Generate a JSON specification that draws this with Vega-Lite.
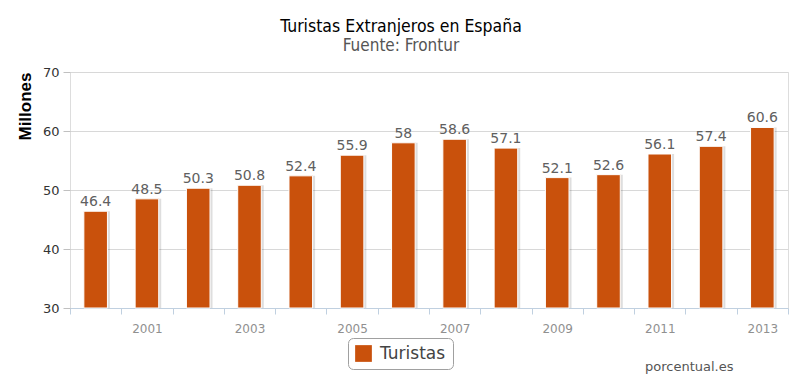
{
  "$schema": "https://vega.github.io/schema/vega-lite/v6.json",
  "autosize": "none",
  "width": 718,
  "height": 236,
  "padding": {"left": 70, "top": 72, "right": 12, "bottom": 82},
  "background": "white",
  "title": {
    "text": "Turistas Extranjeros en España",
    "subtitle": "Fuente: Frontur",
    "font": "DejaVu Sans Condensed",
    "fontSize": 17.5,
    "fontWeight": "normal",
    "color": "#000000",
    "subtitleFont": "DejaVu Sans Condensed",
    "subtitleFontSize": 17,
    "subtitleColor": "#555555",
    "subtitlePadding": 3,
    "anchor": "middle",
    "dx": -28,
    "offset": 12
  },
  "data": {
    "values": [
      {"year": "2000", "serie": "Turistas", "value": 46.4},
      {"year": "2001", "serie": "Turistas", "value": 48.5},
      {"year": "2002", "serie": "Turistas", "value": 50.3},
      {"year": "2003", "serie": "Turistas", "value": 50.8},
      {"year": "2004", "serie": "Turistas", "value": 52.4},
      {"year": "2005", "serie": "Turistas", "value": 55.9},
      {"year": "2006", "serie": "Turistas", "value": 58},
      {"year": "2007", "serie": "Turistas", "value": 58.6},
      {"year": "2008", "serie": "Turistas", "value": 57.1},
      {"year": "2009", "serie": "Turistas", "value": 52.1},
      {"year": "2010", "serie": "Turistas", "value": 52.6},
      {"year": "2011", "serie": "Turistas", "value": 56.1},
      {"year": "2012", "serie": "Turistas", "value": 57.4},
      {"year": "2013", "serie": "Turistas", "value": 60.6}
    ]
  },
  "encoding": {
    "x": {
      "field": "year",
      "type": "ordinal",
      "scale": {"paddingInner": 0, "paddingOuter": 0},
      "axis": {
        "title": "porcentual.es",
        "titleFont": "DejaVu Sans",
        "titleFontSize": 13,
        "titleFontWeight": "normal",
        "titleColor": "#555555",
        "titleX": 663,
        "titleY": 62,
        "titleAlign": "right",
        "titleBaseline": "alphabetic",
        "labelAngle": 0,
        "labelExpr": "toNumber(datum.value) % 2 == 1 ? datum.label : ''",
        "labelFont": "DejaVu Sans",
        "labelFontSize": 12,
        "labelColor": "#909090",
        "labelPadding": 9,
        "tickBand": "extent",
        "tickColor": "#c0d0e0",
        "tickSize": 6,
        "domainColor": "#c0d0e0",
        "grid": false
      }
    },
    "y": {
      "field": "value",
      "type": "quantitative",
      "scale": {"domain": [30, 70], "nice": false, "zero": false},
      "axis": {
        "title": "Millones",
        "titleFont": "Liberation Sans",
        "titleFontSize": 17,
        "titleFontWeight": "bold",
        "titleColor": "#000000",
        "titleAnchor": "end",
        "titlePadding": 8,
        "values": [30, 40, 50, 60, 70],
        "labelFont": "DejaVu Sans",
        "labelFontSize": 13,
        "labelColor": "#333333",
        "labelPadding": 4,
        "tickColor": "#c0c0c0",
        "tickSize": 7,
        "domain": false,
        "gridColor": "#d8d8d8",
        "gridWidth": 1
      }
    }
  },
  "layer": [
    {
      "mark": {"type": "bar", "color": "#000000", "opacity": 0.13, "xOffset": 2, "width": {"band": 0.48}, "clip": false},
      "encoding": {"y2": {"datum": 30}}
    },
    {
      "mark": {"type": "bar", "width": {"band": 0.46}, "stroke": "#ffffff", "strokeWidth": 1},
      "encoding": {
        "y2": {"datum": 30},
        "color": {
          "field": "serie",
          "type": "nominal",
          "scale": {"range": ["#C9510C"]},
          "legend": {
            "title": null,
            "orient": "none",
            "legendX": 278,
            "legendY": 266,
            "direction": "horizontal",
            "strokeColor": "#a0a0a0",
            "fillColor": "#ffffff",
            "cornerRadius": 5,
            "padding": 7,
            "symbolType": "square",
            "symbolSize": 280,
            "symbolStrokeWidth": 0,
            "labelFont": "DejaVu Sans",
            "labelFontSize": 17,
            "labelColor": "#444444",
            "labelOffset": 8
          }
        }
      }
    },
    {
      "mark": {"type": "text", "dy": -5, "baseline": "alphabetic", "font": "DejaVu Sans", "fontSize": 14, "color": "#606060"},
      "encoding": {"text": {"field": "value", "type": "quantitative"}}
    }
  ]
}
